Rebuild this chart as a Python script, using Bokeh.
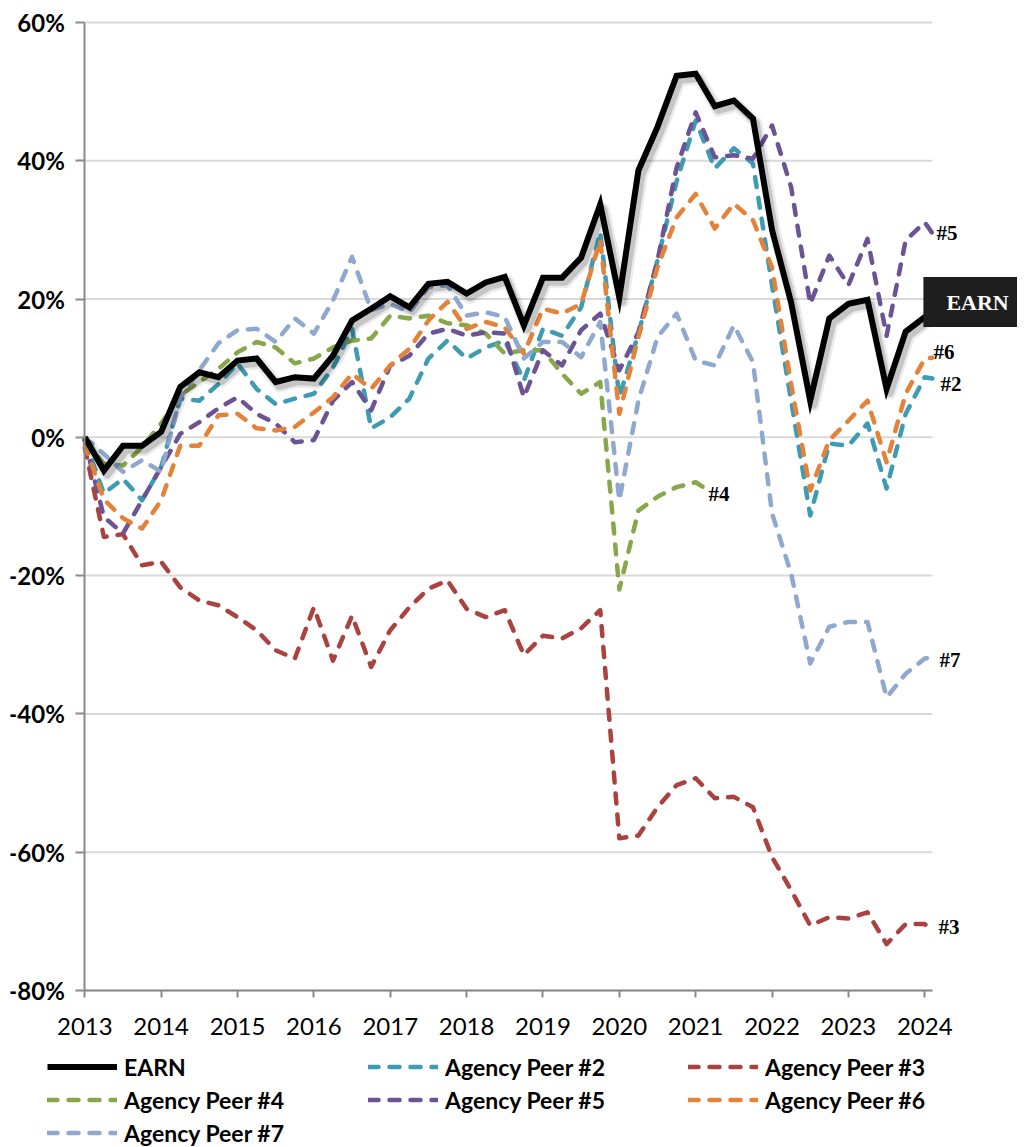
from bokeh.plotting import figure
from bokeh.models import (Range1d, FixedTicker, Legend, LegendItem, Label)
from bokeh.embed import file_html
from bokeh.resources import INLINE

# ---------------- data (cumulative total return, %) ----------------
# quarterly observations from 2013 Q1 through 2024 Q1, plus a final partial-period reading
years = [2013.0 + 0.25 * i for i in range(45)] + [2024.1]
years_peer4 = years[:33] + [2021.13]

earn = [0.0, -4.8, -1.2, -1.2, 0.8, 7.3, 9.4, 8.7, 11.1, 11.4, 8.0, 8.7, 8.5, 11.8,
        16.9, 18.6, 20.4, 18.8, 22.2, 22.5, 20.8, 22.4, 23.2, 16.2, 23.1, 23.1, 26.0,
        33.7, 20.2, 38.6, 44.9, 52.3, 52.6, 47.9, 48.7, 46.1, 30.0, 19.5, 5.3, 17.2,
        19.3, 19.9, 7.0, 15.3, 17.4, 18.0]
peer2 = [-0.5, -8.1, -6.0, -9.1, -4.3, 5.6, 5.3, 7.7, 10.7, 7.0, 4.8, 5.6, 6.3, 10.1,
         15.7, 1.3, 2.9, 5.6, 11.4, 14.0, 11.4, 13.0, 14.0, 8.2, 15.7, 14.7, 18.8,
         29.7, 5.8, 15.0, 25.6, 37.0, 45.8, 38.9, 41.8, 39.6, 22.0, 5.3, -11.3, -0.9,
         -1.2, 2.0, -7.4, 3.4, 8.7, 8.5]
peer3 = [-1.5, -14.4, -14.0, -18.5, -18.0, -21.7, -23.6, -24.3, -26.0, -27.9, -30.8,
         -32.0, -24.6, -32.3, -25.8, -33.2, -27.9, -24.6, -21.9, -20.7, -24.8, -26.0,
         -25.0, -31.5, -28.7, -29.1, -27.6, -25.0, -58.0, -57.6, -53.5, -50.3, -49.3,
         -52.2, -52.0, -53.5, -60.7, -65.5, -70.6, -69.4, -69.6, -68.7, -73.3, -70.4,
         -70.4, -71.3]
peer4 = [-0.5, -3.8, -4.1, -1.4, 2.0, 6.1, 8.0, 9.9, 12.3, 13.8, 13.0, 10.7, 11.4, 13.0,
         14.0, 14.3, 17.6, 17.2, 17.6, 16.5, 16.2, 15.0, 12.1, 12.6, 12.6, 9.2, 6.3,
         8.0, -22.0, -10.6, -8.6, -7.2, -6.5, -7.4]
peer5 = [-0.5, -11.5, -13.9, -9.1, -4.3, 0.5, 2.2, 4.2, 5.8, 3.4, 2.0, -0.7, -0.4, 5.3,
         8.0, 3.9, 10.4, 11.8, 15.0, 15.7, 14.7, 15.2, 15.0, 5.8, 12.6, 10.4, 15.5,
         17.9, 9.7, 15.2, 25.6, 39.0, 47.0, 40.5, 40.8, 40.3, 45.1, 36.2, 19.3, 26.3,
         22.0, 28.7, 14.7, 28.5, 31.1, 29.5]
peer6 = [-1.0, -9.0, -11.7, -13.2, -9.1, -1.2, -1.2, 3.2, 3.4, 1.3, 1.0, 1.5, 3.6, 5.8,
         9.2, 7.0, 10.4, 12.8, 16.9, 19.6, 15.7, 16.7, 15.9, 12.1, 18.6, 17.9, 19.3,
         28.5, 3.4, 14.5, 24.6, 31.8, 35.2, 30.2, 33.8, 31.4, 24.6, 7.7, -7.7, -0.4,
         2.4, 5.3, -3.6, 6.3, 11.4, 11.5]
peer7 = [0.0, -2.4, -5.0, -3.3, -5.0, 5.8, 9.7, 13.6, 15.5, 15.7, 13.8, 17.2, 15.0, 19.8,
         26.1, 18.4, 19.3, 18.1, 21.7, 22.0, 17.6, 18.1, 17.4, 11.4, 13.8, 13.8, 11.6,
         16.7, -9.1, 5.3, 14.5, 17.9, 11.1, 10.4, 16.2, 10.9, -11.0, -19.7, -32.7, -27.4,
         -26.7, -26.7, -37.6, -34.2, -32.0, -31.8]

x_ticks = list(range(2013, 2025))
y_ticks = [-80, -60, -40, -20, 0, 20, 40, 60]

# ---------------- styles / layout ----------------
C_EARN = "#000000"
C2 = "#3D9BB3"
C3 = "#AA4240"
C4 = "#87A74A"
C5 = "#6B5394"
C6 = "#E4823A"
C7 = "#8FA8D0"

FONT = "Lato"
SERIF = "Liberation Serif"

W, H = 1017, 1160
LEFT, TOP, BOTTOM = 10, 0, 10
FRAME_W = W - LEFT
FRAME_H = H - TOP - BOTTOM
PX_YEAR = 76.36          # horizontal scale
PX_PCT = 6.914           # vertical scale
AXIS_X = 84.3            # where the value axis sits (canvas px)
TOP_GRID_Y = 22          # where the 60% gridline sits (canvas px)
X_START = x_ticks[0] - (AXIS_X - LEFT) / PX_YEAR
X_END = X_START + FRAME_W / PX_YEAR
Y_TOP = y_ticks[-1] + TOP_GRID_Y / PX_PCT
Y_MIN = Y_TOP - FRAME_H / PX_PCT

p = figure(frame_width=FRAME_W, frame_height=FRAME_H,
           min_border_left=LEFT, min_border_right=0, min_border_top=TOP, min_border_bottom=BOTTOM,
           x_range=Range1d(X_START, X_END), y_range=Range1d(Y_MIN, Y_TOP),
           output_backend="svg", toolbar_location=None, background_fill_color="white")
p.outline_line_color = None

# shadow ranges (EARN drop shadow, shifted a few pixels right / down)
DX, DY = 3.5 / PX_YEAR, 4.5 / PX_PCT
p.extra_x_ranges = {"sx": Range1d(X_START - DX, X_END - DX)}
p.extra_y_ranges = {"sy": Range1d(Y_MIN + DY, Y_TOP + DY)}

# axes: drawn at fixed data locations, their labels are drawn as annotations below
for ax in (p.xaxis[0], p.yaxis[0]):
    ax.axis_line_color = "#8a8a8a"
    ax.axis_line_width = 2
    ax.major_tick_line_color = "#8a8a8a"
    ax.major_tick_line_width = 2
    ax.major_tick_in = 0
    ax.minor_tick_line_color = None
    ax.major_label_standoff = 0

p.xaxis.ticker = FixedTicker(ticks=x_ticks)
p.xaxis.major_label_overrides = {t: "" for t in x_ticks}
p.xaxis.fixed_location = y_ticks[0]
p.xaxis.bounds = (years[0], years[-1])
p.xaxis.major_tick_out = 7

p.yaxis.ticker = FixedTicker(ticks=y_ticks)
p.yaxis.major_label_overrides = {t: "" for t in y_ticks}
p.yaxis.fixed_location = x_ticks[0]
p.yaxis.bounds = (y_ticks[0], y_ticks[-1])
p.yaxis.major_tick_out = 9

p.xgrid.grid_line_color = None
p.ygrid.grid_line_color = None

# horizontal gridlines limited to the span of the data
p.multi_line(xs=[[years[0], years[-1]] for _ in y_ticks], ys=[[t, t] for t in y_ticks],
             line_color="#d9d9d9", line_width=2)

# tick labels
for t in y_ticks:
    p.add_layout(Label(x=x_ticks[0], y=t, x_offset=-20, text=f"{t}%",
                       text_font=FONT, text_font_style="bold", text_font_size="24px",
                       text_color="black", text_align="right", text_baseline="middle"))
for t in x_ticks:
    p.add_layout(Label(x=t, y=y_ticks[0], y_offset=-36, text=str(t),
                       text_font=FONT, text_font_size="24px",
                       text_color="black", text_align="center", text_baseline="middle"))

DASH = "10 11"
LW = 4.5

def peer_line(xs, ys, color):
    return p.line(xs, ys, line_color=color, line_width=LW, line_dash=DASH,
                  line_cap="round", line_join="round")

r2 = peer_line(years, peer2, C2)
r3 = peer_line(years, peer3, C3)
r4 = peer_line(years_peer4, peer4, C4)
r5 = peer_line(years, peer5, C5)
r6 = peer_line(years, peer6, C6)
r7 = peer_line(years, peer7, C7)

# EARN shadow + line
p.line(years, earn, x_range_name="sx", y_range_name="sy", line_color="#000000",
       line_alpha=0.08, line_width=12, line_join="round")
p.line(years, earn, x_range_name="sx", y_range_name="sy", line_color="#000000",
       line_alpha=0.16, line_width=7, line_join="round")
r1 = p.line(years, earn, line_color=C_EARN, line_width=6, line_join="miter")

# ---------------- legend (three columns below the chart) ----------------
def make_legend(items, loc):
    lg = Legend(items=items, location=loc, orientation="vertical",
                glyph_width=70, glyph_height=33, label_height=33, label_width=230,
                label_standoff=7, spacing=0, padding=0, margin=0,
                border_line_color=None, background_fill_alpha=0,
                label_text_font=FONT, label_text_font_style="bold",
                label_text_font_size="23px", label_text_color="black")
    p.add_layout(lg, "center")

make_legend([LegendItem(label="EARN", renderers=[r1]),
             LegendItem(label="Agency Peer #4", renderers=[r4]),
             LegendItem(label="Agency Peer #7", renderers=[r7])], (37, 1))
make_legend([LegendItem(label="Agency Peer #2", renderers=[r2]),
             LegendItem(label="Agency Peer #5", renderers=[r5])], (358, 34))
make_legend([LegendItem(label="Agency Peer #3", renderers=[r3]),
             LegendItem(label="Agency Peer #6", renderers=[r6])], (678, 34))

# ---------------- end labels ----------------
def end_label(text, xs, ys, dx, dy):
    p.add_layout(Label(x=xs[-1], y=ys[-1], x_offset=dx, y_offset=dy, text=text,
                       text_font=SERIF, text_font_style="bold", text_font_size="21px",
                       text_color="black", text_baseline="middle", text_align="left"))

end_label("#5", years, peer5, 4, 0)
end_label("#6", years, peer6, 1, 6)
end_label("#2", years, peer2, 8, -5)
end_label("#7", years, peer7, 7, -3)
end_label("#3", years, peer3, 6, 3)
end_label("#4", years_peer4, peer4, 3, -5)

p.add_layout(Label(x=years[-1], y=earn[-1], x_offset=-9, y_offset=11, text="EARN",
                   text_font=SERIF, text_font_style="bold", text_font_size="22px",
                   text_color="white", text_baseline="middle", text_align="left",
                   background_fill_color="#1e1e1e",
                   padding=dict(left=23, right=60, top=13, bottom=12)))

open("out.html", "w").write(file_html(p, INLINE))
